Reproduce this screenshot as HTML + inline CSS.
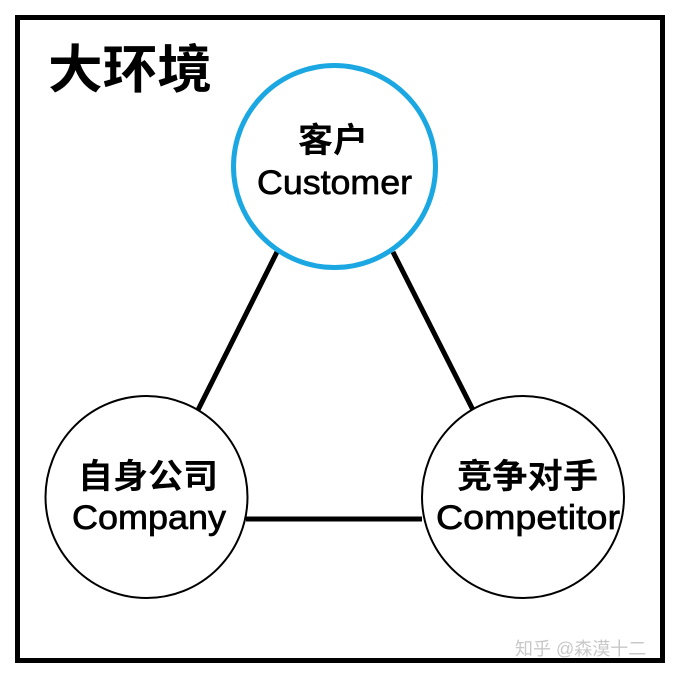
<!DOCTYPE html>
<html><head><meta charset="utf-8"><style>
body{margin:0;background:#fff;}
svg text{font-family:"Liberation Sans","Noto Sans CJK SC",sans-serif;}
</style></head><body>
<svg width="680" height="675" viewBox="0 0 680 675" xmlns="http://www.w3.org/2000/svg">
<rect x="0" y="0" width="680" height="675" fill="#fff"/>
<rect x="17.5" y="17.5" width="645" height="643" fill="none" stroke="#000" stroke-width="5"/>
<text x="48" y="88" font-size="52" font-weight="bold" font-family="Noto Sans CJK SC, sans-serif" textLength="164" lengthAdjust="spacingAndGlyphs">大环境</text>
<line x1="277" y1="252" x2="198" y2="410" stroke="#000" stroke-width="5"/>
<line x1="393" y1="252" x2="473" y2="410" stroke="#000" stroke-width="5"/>
<line x1="246" y1="519" x2="422" y2="519" stroke="#000" stroke-width="5"/>
<circle cx="334.5" cy="166.5" r="101" fill="#fff" stroke="#1ba8e2" stroke-width="5"/>
<circle cx="146.5" cy="497" r="101" fill="#fff" stroke="#000" stroke-width="2"/>
<circle cx="523" cy="497" r="101" fill="#fff" stroke="#000" stroke-width="2"/>
<g font-size="34" fill="#000" stroke="#000" stroke-width="0.7">
<text x="298" y="152" font-family="Noto Sans CJK SC, sans-serif" font-weight="bold" stroke-width="0" textLength="70" lengthAdjust="spacingAndGlyphs">客户</text>
<text x="257" y="194" textLength="155" lengthAdjust="spacingAndGlyphs">Customer</text>
<text x="78" y="488" font-family="Noto Sans CJK SC, sans-serif" font-weight="bold" stroke-width="0" textLength="140" lengthAdjust="spacingAndGlyphs">自身公司</text>
<text x="72" y="529" textLength="154" lengthAdjust="spacingAndGlyphs">Company</text>
<text x="457" y="488" font-family="Noto Sans CJK SC, sans-serif" font-weight="bold" stroke-width="0" textLength="141" lengthAdjust="spacingAndGlyphs">竞争对手</text>
<text x="436" y="529" textLength="184" lengthAdjust="spacingAndGlyphs">Competitor</text>
</g>
<text x="515" y="655" font-size="18" fill="#c8c8c8" font-family="Noto Sans CJK SC, sans-serif">知乎 @森漠十二</text>
</svg>
</body></html>
